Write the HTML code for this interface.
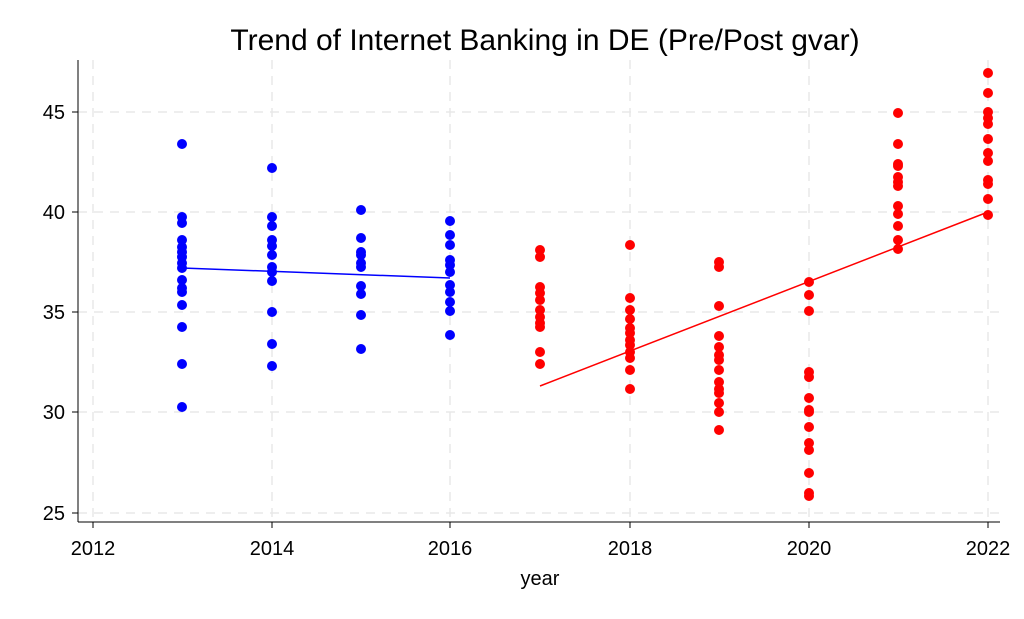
<!DOCTYPE html>
<html><head><style>body{margin:0;background:#fff}</style></head><body>
<svg width="1024" height="614" xmlns="http://www.w3.org/2000/svg" font-family="Liberation Sans, sans-serif">
<rect width="1024" height="614" fill="#fff"/>
<g stroke="#e8e8e8" stroke-width="1.5" stroke-dasharray="9,7">
<line x1="93" y1="60" x2="93" y2="522"/><line x1="272" y1="60" x2="272" y2="522"/><line x1="450" y1="60" x2="450" y2="522"/><line x1="630" y1="60" x2="630" y2="522"/><line x1="809" y1="60" x2="809" y2="522"/><line x1="988" y1="60" x2="988" y2="522"/>
<line x1="78" y1="112" x2="1000" y2="112"/><line x1="78" y1="212" x2="1000" y2="212"/><line x1="78" y1="312" x2="1000" y2="312"/><line x1="78" y1="412" x2="1000" y2="412"/><line x1="78" y1="513" x2="1000" y2="513"/>
</g>
<g stroke="#000" stroke-width="1">
<line x1="78" y1="60" x2="78" y2="522"/><line x1="78" y1="522" x2="1000" y2="522"/>
<line x1="72" y1="112" x2="78" y2="112"/><line x1="72" y1="212" x2="78" y2="212"/><line x1="72" y1="312" x2="78" y2="312"/><line x1="72" y1="412" x2="78" y2="412"/><line x1="72" y1="513" x2="78" y2="513"/>
<line x1="93" y1="522" x2="93" y2="528"/><line x1="272" y1="522" x2="272" y2="528"/><line x1="450" y1="522" x2="450" y2="528"/><line x1="630" y1="522" x2="630" y2="528"/><line x1="809" y1="522" x2="809" y2="528"/><line x1="988" y1="522" x2="988" y2="528"/>
</g>
<g font-size="20" fill="#000" text-anchor="end">
<text x="65" y="119">45</text><text x="65" y="219">40</text><text x="65" y="319">35</text><text x="65" y="419">30</text><text x="65" y="520">25</text>
</g>
<g font-size="20" fill="#000" text-anchor="middle">
<text x="93" y="555">2012</text><text x="272" y="555">2014</text><text x="450" y="555">2016</text><text x="630" y="555">2018</text><text x="809" y="555">2020</text><text x="988" y="555">2022</text>
<text x="540" y="585">year</text>
<text x="545" y="50" font-size="30">Trend of Internet Banking in DE (Pre/Post gvar)</text>
</g>
<g id="pts"></g>
<line x1="182" y1="268" x2="450" y2="278" stroke="#0000ff" stroke-width="1.5"/>
<line x1="540" y1="386" x2="988" y2="212" stroke="#ff0000" stroke-width="1.5"/>
</svg>
<script>
const D=[
[182,'b',[144,217,223,240,247,252,257,263,268,280,288,292,305,327,364,407]],
[272,'b',[168,217,226,240,246,255,267,272,281,312,344,366]],
[361,'b',[210,238,252,255,263,267,286,294,315,349]],
[450,'b',[221,235,245,260,265,272,285,292,302,311,335]],
[540,'r',[250,257,287,293,300,310,317,323,327,352,364]],
[630,'r',[245,298,310,319,328,333,340,345,352,358,370,389]],
[719,'r',[262,267,306,336,347,355,360,370,382,389,393,403,412,430]],
[809,'r',[282,295,311,372,377,398,410,412,427,443,450,473,493,496]],
[898,'r',[113,144,164,166,177,182,186,206,214,226,240,249]],
[988,'r',[73,93,112,118,124,139,153,161,180,184,199,215]]];
const g=document.getElementById('pts');let s='';
for(const [x,c,ys] of D)for(const y of ys)s+=`<circle cx="${x}" cy="${y}" r="5" fill="${c=='b'?'#0000ff':'#ff0000'}"/>`;
g.innerHTML=s;
</script>
</body></html>
